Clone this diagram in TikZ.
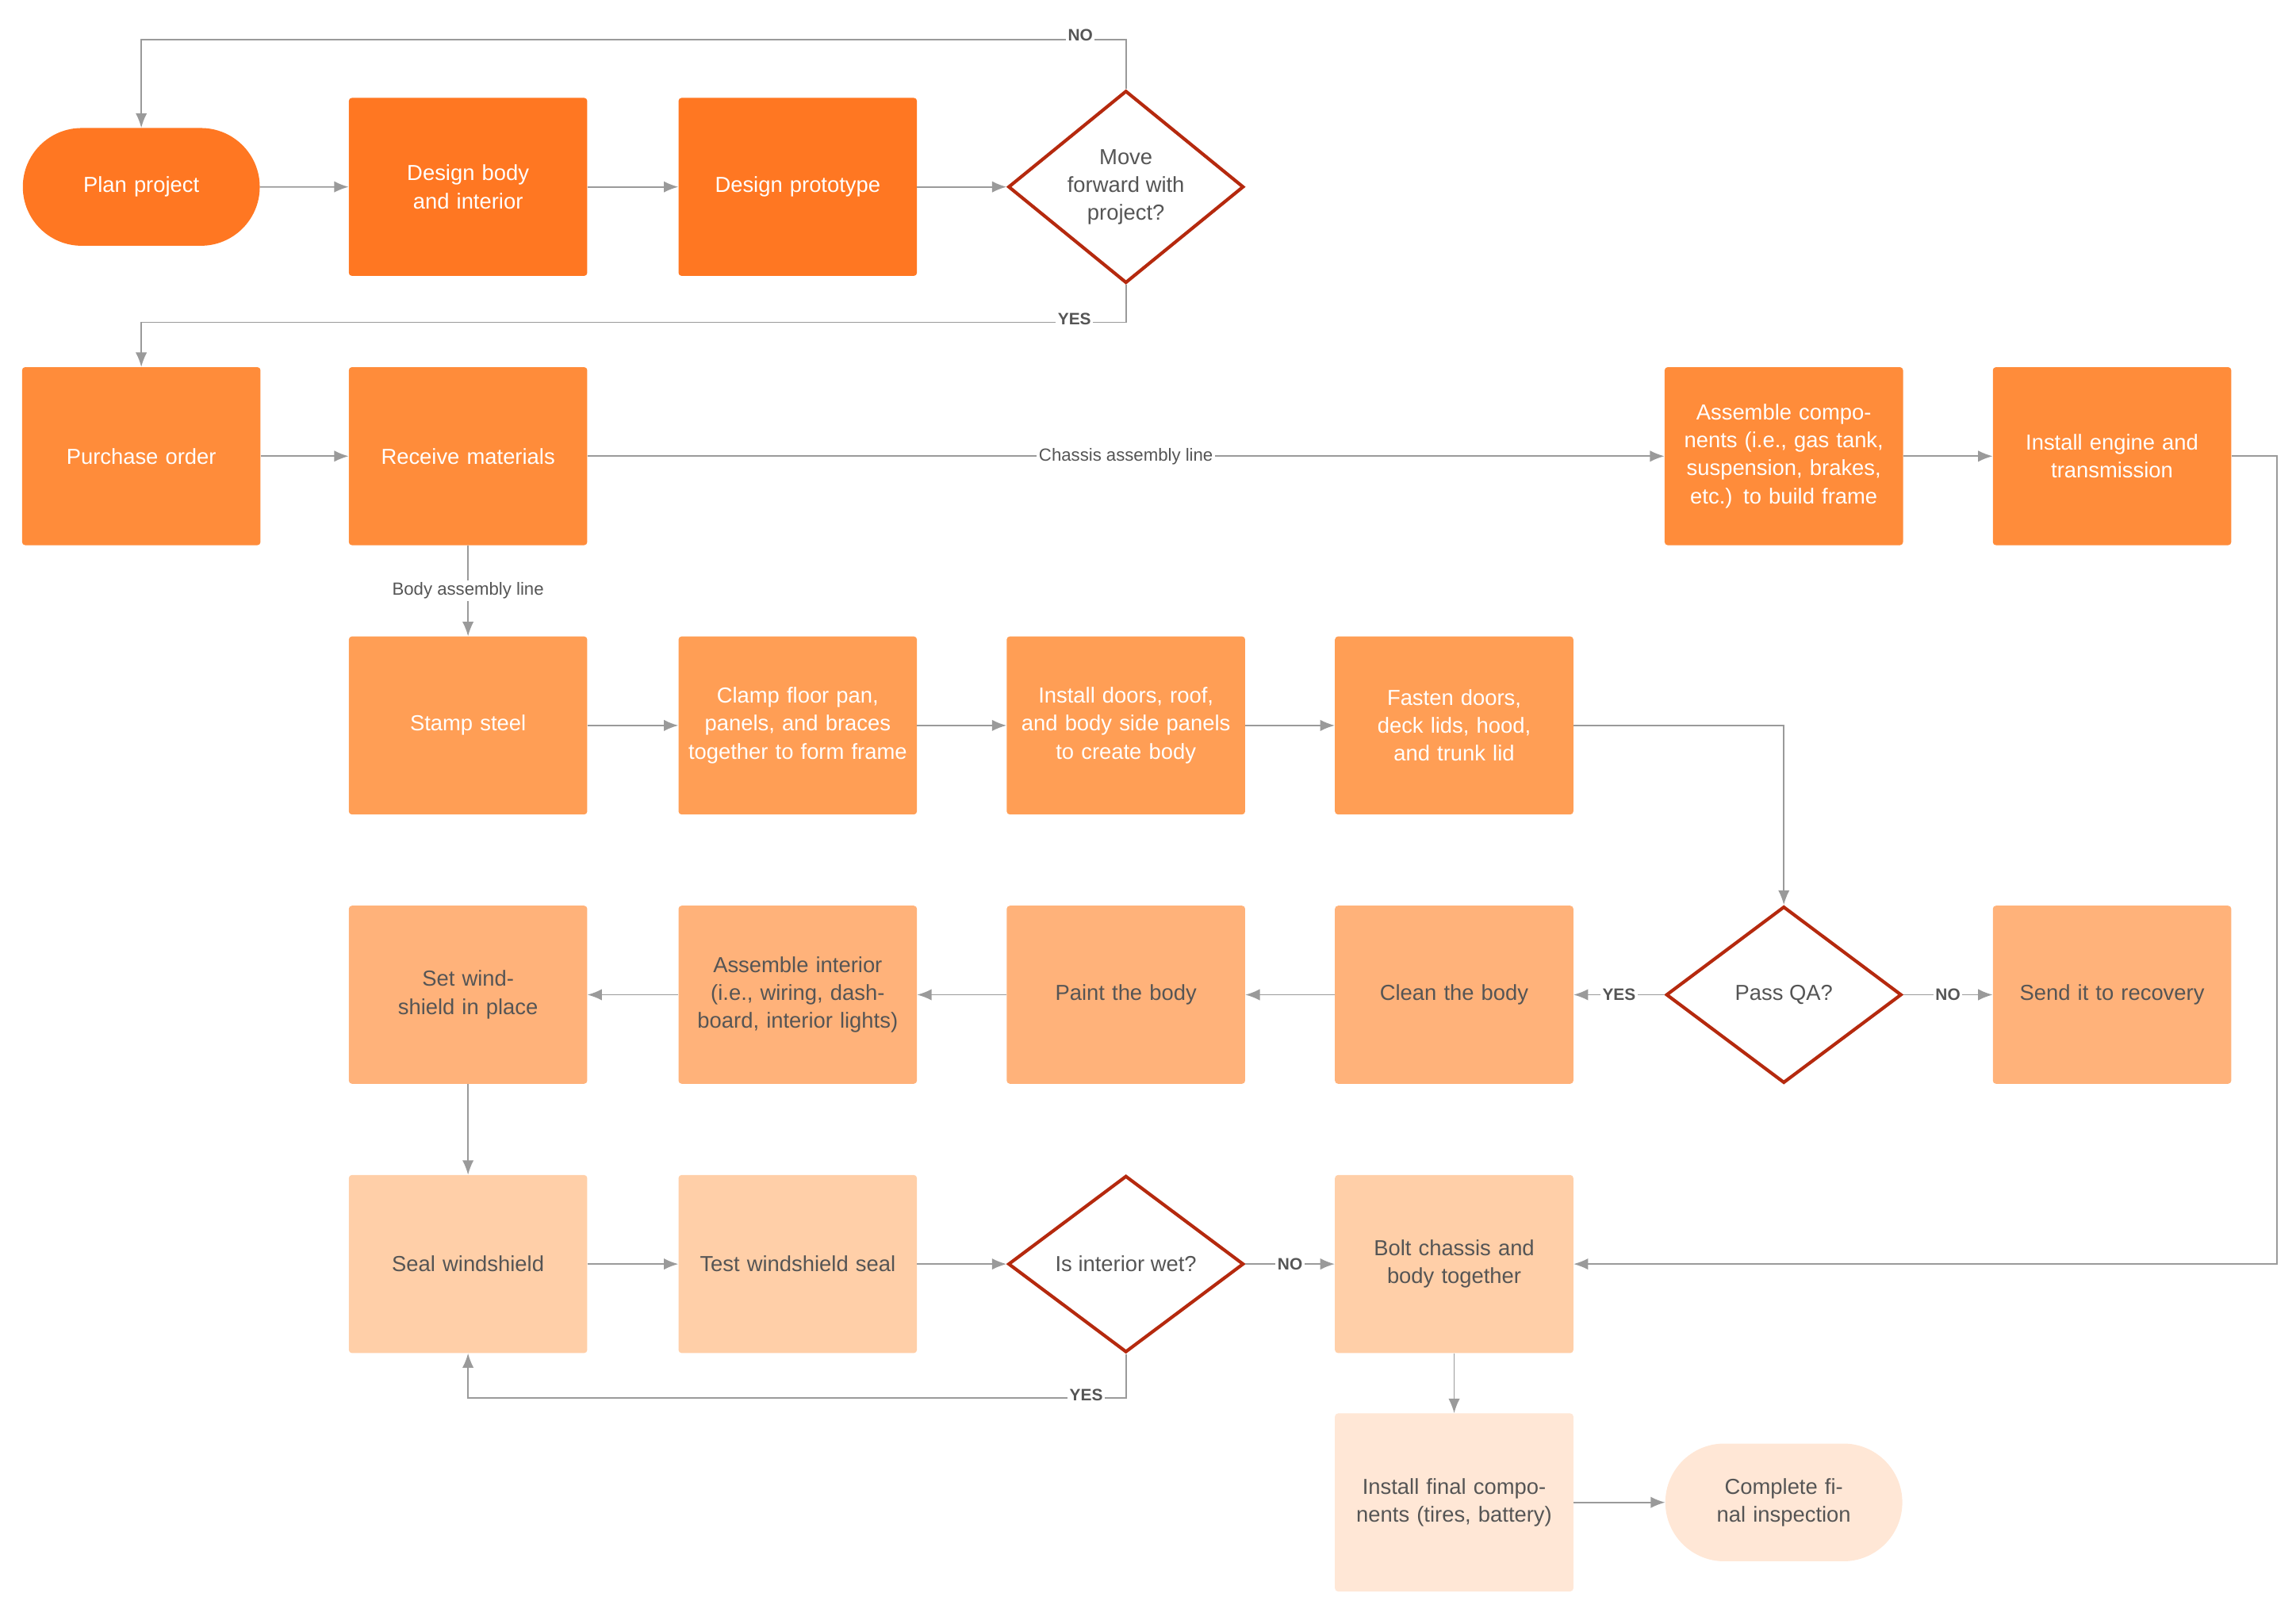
\documentclass[tikz,border=0pt]{standalone}
\usepackage{fontspec}
\setmainfont{Liberation Sans}
\usetikzlibrary{shapes.geometric,shapes.misc,arrows.meta}
\definecolor{cA}{HTML}{FF7722}
\definecolor{cB}{HTML}{FF8C3A}
\definecolor{cC}{HTML}{FF9E55}
\definecolor{cD}{HTML}{FFB27A}
\definecolor{cE}{HTML}{FFCFA8}
\definecolor{cF}{HTML}{FFE7D6}
\definecolor{edge}{HTML}{9A9A9A}
\definecolor{txt}{HTML}{555555}
\definecolor{dia}{HTML}{B5290E}
\tikzset{
  box/.style={rectangle,rounded corners=3pt,minimum width=8.1cm,minimum height=6.05cm,
    text width=7.5cm,align=center,inner sep=0pt,font=\fontsize{21}{27}\selectfont},
  wbox/.style={box,fill=#1,text=white},
  gbox/.style={box,fill=#1,text=txt},
  term/.style={rounded rectangle,minimum width=8.05cm,minimum height=4cm,text width=6.5cm,
    align=center,inner sep=0pt,font=\fontsize{21}{27}\selectfont},
  dec/.style={diamond,draw=dia,line width=3.2pt,fill=white,text=txt,minimum width=8cm,
    minimum height=6cm,inner sep=0pt,align=center,font=\fontsize{21}{27}\selectfont},
  link/.style={draw=edge,line width=1.3pt,-{Latex[length=14pt,width=11pt]}},
  yn/.style={fill=white,text=txt,inner sep=2pt,font=\fontsize{16}{18}\selectfont\bfseries},
  lbl/.style={fill=white,text=txt,inner sep=2pt,font=\fontsize{17}{20}\selectfont},
}
\begin{document}
\begin{tikzpicture}[x=0.05cm,y=-0.05cm]
    \useasboundingbox (0,0) rectangle (1560,1098);
    % row 1
    \node[term,fill=cA,text=white] (plan) at (96,127) {Plan project};
    \node[wbox=cA] (body) at (318,127) {Design body and interior};
    \node[wbox=cA] (proto) at (542,127) {Design prototype};
    \node[dec] (move) at (765,127) {Move\\forward with\\project?};
    % row 2
    \node[wbox=cB] (order) at (96,310) {Purchase order};
    \node[wbox=cB] (receive) at (318,310) {Receive materials};
    \node[wbox=cB] (frame) at (1212,310) {Assemble components (i.e., gas tank, suspension, brakes, etc.) to build frame};
    \node[wbox=cB] (engine) at (1435,310) {Install engine and transmission};
    % row 3
    \node[wbox=cC] (stamp) at (318,493) {Stamp steel};
    \node[wbox=cC] (clamp) at (542,493) {Clamp floor pan, panels, and braces together to form frame};
    \node[wbox=cC] (doors) at (765,493) {Install doors, roof, and body side panels to create body};
    \node[wbox=cC] (fasten) at (988,493) {Fasten doors, deck lids, hood, and trunk lid};
    % row 4
    \node[gbox=cD] (setws) at (318,676) {Set windshield in place};
    \node[gbox=cD] (inter) at (542,676) {Assemble interior (i.e., wiring, dashboard, interior lights)};
    \node[gbox=cD] (paint) at (765,676) {Paint the body};
    \node[gbox=cD] (clean) at (988,676) {Clean the body};
    \node[dec] (qa) at (1212,676) {Pass QA?};
    \node[gbox=cD] (recov) at (1435,676) {Send it to recovery};
    % row 5
    \node[gbox=cE] (seal) at (318,859) {Seal windshield};
    \node[gbox=cE] (test) at (542,859) {Test windshield seal};
    \node[dec] (wet) at (765,859) {Is interior wet?};
    \node[gbox=cE] (bolt) at (988,859) {Bolt chassis and body together};
    % row 6
    \node[gbox=cF] (final) at (988,1021) {Install final components (tires, battery)};
    \node[term,fill=cF,text=txt] (done) at (1212,1021) {Complete final inspection};
    % connectors
    \draw[link] (plan) -- (body);
    \draw[link] (body) -- (proto);
    \draw[link] (proto) -- (move);
    \coordinate (noTop) at (765,27);
    \draw[link] (move.north) -- (noTop) -| (plan.north);
    \node[yn] at (734,24) {NO};
    \coordinate (yesTop) at (765,219);
    \draw[link] (move.south) -- (yesTop) -| (order.north);
    \node[yn] at (730,217) {YES};
    \draw[link] (order) -- (receive);
    \draw[link] (receive) -- node[lbl]{Chassis assembly line} (frame);
    \draw[link] (frame) -- (engine);
    \coordinate (rEdge) at (1547,310);
    \draw[link] (engine.east) -- (rEdge) |- (bolt.east);
    \draw[link] (receive) -- node[lbl]{Body assembly line} (stamp);
    \draw[link] (stamp) -- (clamp);
    \draw[link] (clamp) -- (doors);
    \draw[link] (doors) -- (fasten);
    \draw[link] (fasten.east) -| (qa.north);
    \draw[link] (qa) -- node[yn]{YES} (clean);
    \draw[link] (qa) -- node[yn]{NO} (recov);
    \draw[link] (clean) -- (paint);
    \draw[link] (paint) -- (inter);
    \draw[link] (inter) -- (setws);
    \draw[link] (setws) -- (seal);
    \draw[link] (seal) -- (test);
    \draw[link] (test) -- (wet);
    \draw[link] (wet) -- node[yn]{NO} (bolt);
    \coordinate (yesBot) at (765,950);
    \draw[link] (wet.south) -- (yesBot) -| (seal.south);
    \node[yn] at (738,948) {YES};
    \draw[link] (bolt) -- (final);
    \draw[link] (final) -- (done);
\end{tikzpicture}
\end{document}
